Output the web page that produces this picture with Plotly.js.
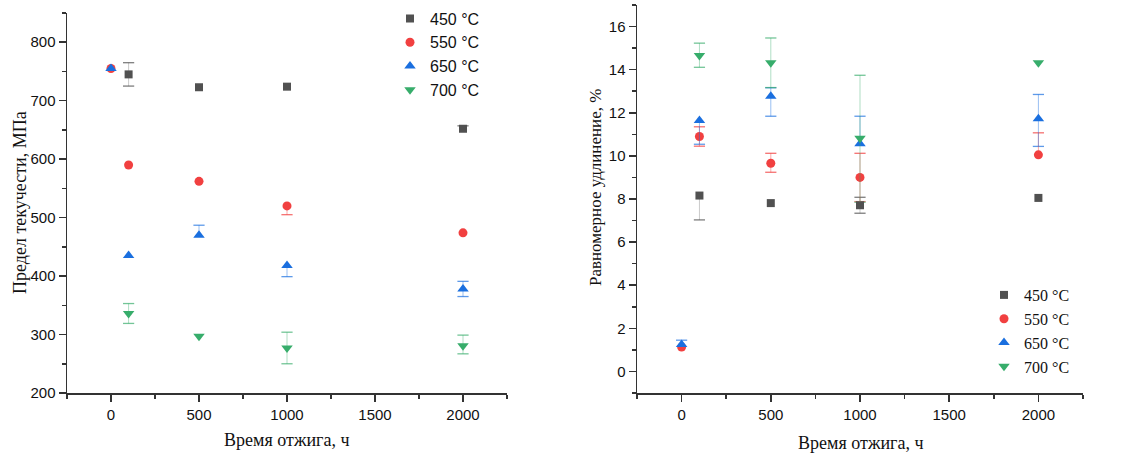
<!DOCTYPE html>
<html>
<head>
<meta charset="utf-8">
<script src="https://cdn.plot.ly/plotly-3.0.1.min.js"></script>
<style>html,body{margin:0;padding:0;background:#fff;}#chart{width:1124px;height:458px;}</style>
</head>
<body>
<div id="chart"></div>
<script>
// ---- data ----
const seriesNames = ['450 °C', '550 °C', '650 °C', '700 °C'];
const colors = ['#515151', '#F14040', '#1A6FDF', '#37AD6B'];
const capColors = ['rgba(81,81,81,0.75)', 'rgba(241,64,64,0.75)', 'rgba(26,111,223,0.7)', 'rgba(55,173,107,0.7)'];
const whiskerColors = ['rgba(81,81,81,0.3)', 'rgba(241,64,64,0.45)', 'rgba(26,111,223,0.45)', 'rgba(55,173,107,0.4)'];
const symbols = ['square', 'circle', 'triangle-up', 'triangle-down'];
const sizes = [8, 9, 10, 10];

// Left: yield strength, MPa
const tYs450 = [100, 500, 1000, 2000];
const ys450 = [745, 723, 724, 652];
const ys450Plus = [20, 0, 0, 5];
const ys450Minus = [20, 0, 0, 0];

const tYs550 = [0, 100, 500, 1000, 2000];
const ys550 = [755, 590, 562, 520, 474];
const ys550Plus = [0, 0, 0, 0, 0];
const ys550Minus = [0, 0, 0, 15, 0];

const tYs650 = [0, 100, 500, 1000, 2000];
const ys650 = [755, 435, 470, 418, 378];
const ys650Plus = [0, 0, 17, 0, 13];
const ys650Minus = [0, 0, 0, 19, 13];

const tYs700 = [100, 500, 1000, 2000];
const ys700 = [336, 297, 277, 281];
const ys700Plus = [17, 0, 27, 18];
const ys700Minus = [17, 0, 27, 14];

// Right: uniform elongation, %
const tEl450 = [100, 500, 1000, 2000];
const el450 = [8.16, 7.81, 7.71, 8.05];
const el450Plus = [0, 0, 0.37, 0];
const el450Minus = [1.13, 0, 0.37, 0];

const tEl550 = [0, 100, 500, 1000, 2000];
const el550 = [1.13, 10.9, 9.66, 9.0, 10.05];
const el550Plus = [0, 0.45, 0.46, 1.12, 1.02];
const el550Minus = [0, 0.45, 0.42, 1.12, 0];

const tEl650 = [0, 100, 500, 1000, 2000];
const el650 = [1.25, 11.64, 12.77, 10.56, 11.72];
const el650Plus = [0.2, 0, 0.39, 1.28, 1.13];
const el650Minus = [0, 1.1, 0.93, 0, 1.28];

const tEl700 = [100, 500, 1000, 2000];
const el700 = [14.66, 14.32, 10.82, 14.32];
const el700Plus = [0.57, 1.15, 2.92, 0];
const el700Minus = [0.55, 1.15, 2.97, 0];

const xTitle = 'Время отжига, ч';
const yTitleLeft = 'Предел текучести, МПа';
const yTitleRight = 'Равномерное удлинение, %';

// ---- build traces ----
function caps(i, x, y, plus, minus, xa, ya) {
  const cx = [], cy = [];
  for (let k = 0; k < x.length; k++) {
    if (plus[k] > 0) { cx.push(x[k]); cy.push(y[k] + plus[k]); }
    if (minus[k] > 0) { cx.push(x[k]); cy.push(y[k] - minus[k]); }
  }
  return {
    type: 'scatter', mode: 'markers', x: cx, y: cy, xaxis: xa, yaxis: ya,
    showlegend: false, hoverinfo: 'skip', cliponaxis: false,
    marker: {symbol: 'line-ew', size: 8, line: {width: 1.3, color: capColors[i]}}
  };
}
function pts(i, x, y, plus, minus, xa, ya, leg) {
  return {
    type: 'scatter', mode: 'markers', x: x, y: y,
    name: seriesNames[i], xaxis: xa, yaxis: ya, legend: leg,
    marker: {symbol: symbols[i], color: colors[i], size: sizes[i], line: {width: 0}},
    error_y: {type: 'data', symmetric: false, array: plus, arrayminus: minus,
              color: whiskerColors[i], thickness: 1, width: 0},
    cliponaxis: false
  };
}
const leftSets = [
  [tYs450, ys450, ys450Plus, ys450Minus],
  [tYs550, ys550, ys550Plus, ys550Minus],
  [tYs650, ys650, ys650Plus, ys650Minus],
  [tYs700, ys700, ys700Plus, ys700Minus]
];
const rightSets = [
  [tEl450, el450, el450Plus, el450Minus],
  [tEl550, el550, el550Plus, el550Minus],
  [tEl650, el650, el650Plus, el650Minus],
  [tEl700, el700, el700Plus, el700Minus]
];
const data = [];
leftSets.forEach((s, i) => data.push(caps(i, s[0], s[1], s[2], s[3], 'x', 'y')));
rightSets.forEach((s, i) => data.push(caps(i, s[0], s[1], s[2], s[3], 'x2', 'y2')));
leftSets.forEach((s, i) => data.push(pts(i, s[0], s[1], s[2], s[3], 'x', 'y', 'legend')));
rightSets.forEach((s, i) => data.push(pts(i, s[0], s[1], s[2], s[3], 'x2', 'y2', 'legend2')));

const W = 1124, H = 458;
const px = v => v / W, py = v => (H - v) / H;
const tickFont = {family: 'Liberation Sans, Arial, sans-serif', size: 15, color: '#111'};
const serif = 'Liberation Serif, Times New Roman, serif';
const minorStyle = {ticks: 'outside', ticklen: 4, tickcolor: '#333', tickwidth: 1.5};

function axis(extra) {
  return Object.assign({
    showline: true, linecolor: '#333', linewidth: 1.5, mirror: false,
    showgrid: false, zeroline: false,
    ticks: 'outside', ticklen: 7, tickwidth: 1.5, tickcolor: '#333',
    tickfont: tickFont, automargin: false, fixedrange: true
  }, extra);
}

const layout = {
  width: W, height: H,
  margin: {l: 0, r: 0, t: 0, b: 0},
  paper_bgcolor: '#fff', plot_bgcolor: '#fff',
  showlegend: true,
  xaxis: axis({domain: [px(67), px(507)], range: [-250, 2250], tickvals: [0, 500, 1000, 1500, 2000],
    minor: Object.assign({tickvals: [-250, 250, 750, 1250, 1750, 2250]}, minorStyle), anchor: 'y'}),
  yaxis: axis({domain: [py(393), py(13)], range: [200, 850], tickvals: [200, 300, 400, 500, 600, 700, 800],
    minor: Object.assign({tickvals: [250, 350, 450, 550, 650, 750, 850]}, minorStyle), anchor: 'x'}),
  xaxis2: axis({domain: [px(637), px(1083)], range: [-250, 2250], tickvals: [0, 500, 1000, 1500, 2000],
    minor: Object.assign({tickvals: [-250, 250, 750, 1250, 1750, 2250]}, minorStyle), anchor: 'y2'}),
  yaxis2: axis({domain: [py(393), py(5)], range: [-1, 17], tickvals: [0, 2, 4, 6, 8, 10, 12, 14, 16],
    minor: Object.assign({tickvals: [-1, 1, 3, 5, 7, 9, 11, 13, 15, 17]}, minorStyle), anchor: 'x2'}),
  legend: {x: px(390), y: py(1.5), xanchor: 'left', yanchor: 'top', bgcolor: 'rgba(0,0,0,0)',
    font: {family: 'Liberation Sans, Arial, sans-serif', size: 16, color: '#111'}, tracegroupgap: 0, itemwidth: 30},
  legend2: {x: px(984), y: py(278), xanchor: 'left', yanchor: 'top', bgcolor: 'rgba(0,0,0,0)',
    font: {family: serif, size: 16, color: '#111'}, tracegroupgap: 0, itemwidth: 30},
  annotations: [
    {text: xTitle, xref: 'paper', yref: 'paper', x: px(287), y: py(440), xanchor: 'center', yanchor: 'middle',
     showarrow: false, font: {family: serif, size: 18, color: '#111'}},
    {text: xTitle, xref: 'paper', yref: 'paper', x: px(861), y: py(443), xanchor: 'center', yanchor: 'middle',
     showarrow: false, font: {family: serif, size: 18, color: '#111'}},
    {text: yTitleLeft, xref: 'paper', yref: 'paper', x: px(20), y: py(203), xanchor: 'center', yanchor: 'middle',
     showarrow: false, textangle: -90, font: {family: serif, size: 18, color: '#111'}},
    {text: yTitleRight, xref: 'paper', yref: 'paper', x: px(596), y: py(188), xanchor: 'center', yanchor: 'middle',
     showarrow: false, textangle: -90, font: {family: serif, size: 17, color: '#111'}}
  ]
};

Plotly.newPlot('chart', data, layout, {staticPlot: true, displayModeBar: false});
</script>
</body>
</html>
